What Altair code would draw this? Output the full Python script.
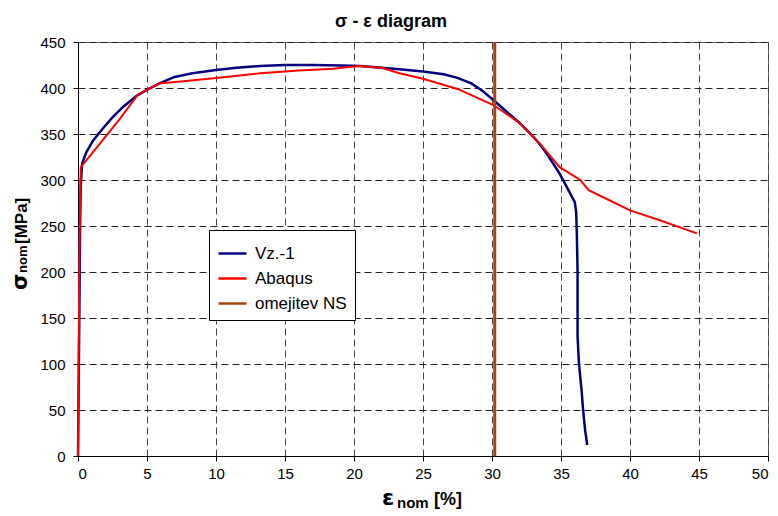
import altair as alt
import pandas as pd

# ---- data ----
vz_x = [0, 0.05, 0.1, 0.15, 0.2, 0.3, 0.6, 1.1, 1.8, 2.5, 3.3, 4.3, 5.0, 5.9, 7.0, 8.3, 10.0,
        11.5, 13.2, 15.0, 17.0, 19.0, 20.5, 22.0, 23.3, 25.0, 26.5, 27.5, 28.5, 29.3, 30.1, 31.0,
        32.0, 33.0, 33.5, 34.0, 34.9, 35.5, 36.0, 36.1, 36.15, 36.2, 36.2, 36.3, 36.5, 36.6,
        36.75, 36.9]
vz_y = [0, 80, 160, 250, 295, 318, 330, 343, 356, 368, 380, 392, 398, 405, 412, 416, 419.5,
        422, 424, 425, 425, 424.5, 424, 422, 420.5, 418, 415, 411, 405, 397, 387, 375,
        362, 347, 338, 328, 307, 290, 276, 265, 240, 200, 130, 101, 70, 50,
        28, 12]

ab_x = [0, 0.05, 0.1, 0.2, 1.5, 3.0, 4.35, 5.9, 8.0, 10.0, 13.2, 16.0, 18.5, 20.3, 22.0,
        23.3, 25.0, 27.5, 30.1, 32.0, 33.5, 34.9, 36.4, 37.0, 38.5, 40.0, 42.0, 44.85]
ab_y = [0, 100, 220, 314, 338, 366, 393, 405, 408, 411, 416, 419, 421, 424, 422,
        416, 410, 399, 381.5, 362, 339, 314, 300, 289, 278, 267, 257, 242]

ns_x = [30.2]

series_names = ["Vz.-1", "Abaqus", "omejitev NS"]
series_colors = ["#000080", "#FF0000", "#A8430F"]

x_ticks = list(range(0, 51, 5))
y_ticks = list(range(0, 451, 50))

# ---- tables ----
vz = pd.DataFrame({"x": vz_x, "y": vz_y, "s": "Vz.-1", "i": range(len(vz_x))})
ab = pd.DataFrame({"x": ab_x, "y": ab_y, "s": "Abaqus", "i": range(len(ab_x))})
ns = pd.DataFrame({"x": ns_x, "s": "omejitev NS"})

FONT = "Liberation Sans"
GREEK = "DejaVu Sans"

color = alt.Color("s:N", scale=alt.Scale(domain=series_names, range=series_colors),
                  legend=alt.Legend(title=None, orient="none", legendX=131, legendY=188))

xscale = alt.Scale(domain=[0, 50], nice=False, zero=False)
yscale = alt.Scale(domain=[0, 450], nice=False, zero=False)

xaxis = alt.Axis(values=x_ticks, title=None, grid=True, gridDash=[7, 4], gridColor="#444",
                 gridOpacity=1, domainColor="black", tickColor="black", tickSize=5,
                 labelPadding=5, labelFont=FONT, labelFontSize=15, labelColor="black")
yaxis = alt.Axis(values=y_ticks, title=None, grid=True, gridDash=[7, 4], gridColor="#222",
                 gridOpacity=1, domainColor="black", tickColor="black", tickSize=5,
                 labelPadding=8, labelFont=FONT, labelFontSize=15, labelColor="black")

blue = alt.Chart(vz).mark_line(strokeWidth=2.5).encode(
    x=alt.X("x:Q", scale=xscale, axis=xaxis),
    y=alt.Y("y:Q", scale=yscale, axis=yaxis),
    color=color,
    order="i:Q",
)
red = alt.Chart(ab).mark_line(strokeWidth=2).encode(
    x=alt.X("x:Q", scale=xscale),
    y=alt.Y("y:Q", scale=yscale),
    color=color,
    order="i:Q",
)
rule = alt.Chart(ns).mark_rule(strokeWidth=3).encode(
    x=alt.X("x:Q", scale=xscale),
    color=color,
)

dummy = pd.DataFrame({"d": [0]})

def txt(text, x, y, size, angle=0, align="left", baseline="alphabetic", font=FONT):
    kw = dict(text=text, font=font, fontSize=size, fontWeight="bold", color="black",
              align=align, baseline=baseline)
    if angle:
        kw["angle"] = angle
    return alt.Chart(dummy).mark_text(**kw).encode(x=alt.value(x), y=alt.value(y))

title = txt("σ - ε diagram", 313, -15, 18, align="center")

# x-axis title  (ε_nom [%])
xt1 = txt("ε", 304, 463, 22, font=GREEK)
xt2 = txt("nom", 319, 466, 15)
xt3 = txt("[%]", 356, 463, 18)

# y-axis title  (σ_nom [MPa]) rotated
yt1 = txt("σ", -51, 248, 21, angle=270, font=GREEK)
yt2 = txt("nom", -51, 231, 13, angle=270)
yt3 = txt("[MPa]", -51, 202, 17, angle=270)

chart = alt.layer(blue, red, rule, title, xt1, xt2, xt3, yt1, yt2, yt3).properties(
    width=690, height=414,
    autosize=alt.AutoSizeParams(type="none"),
    padding={"left": 70, "top": 34, "right": 2, "bottom": 66},
).configure_view(
    stroke="#666", strokeWidth=1
).configure_legend(
    strokeColor="black", fillColor="white", padding=8, symbolType="stroke",
    symbolSize=784, symbolStrokeWidth=2.5, labelFont=FONT, labelFontSize=17,
    labelColor="black", rowPadding=1, labelOffset=7, labelLimit=300, cornerRadius=0,
)

chart.save("out.html", embed_options={"renderer": "svg", "actions": False})
